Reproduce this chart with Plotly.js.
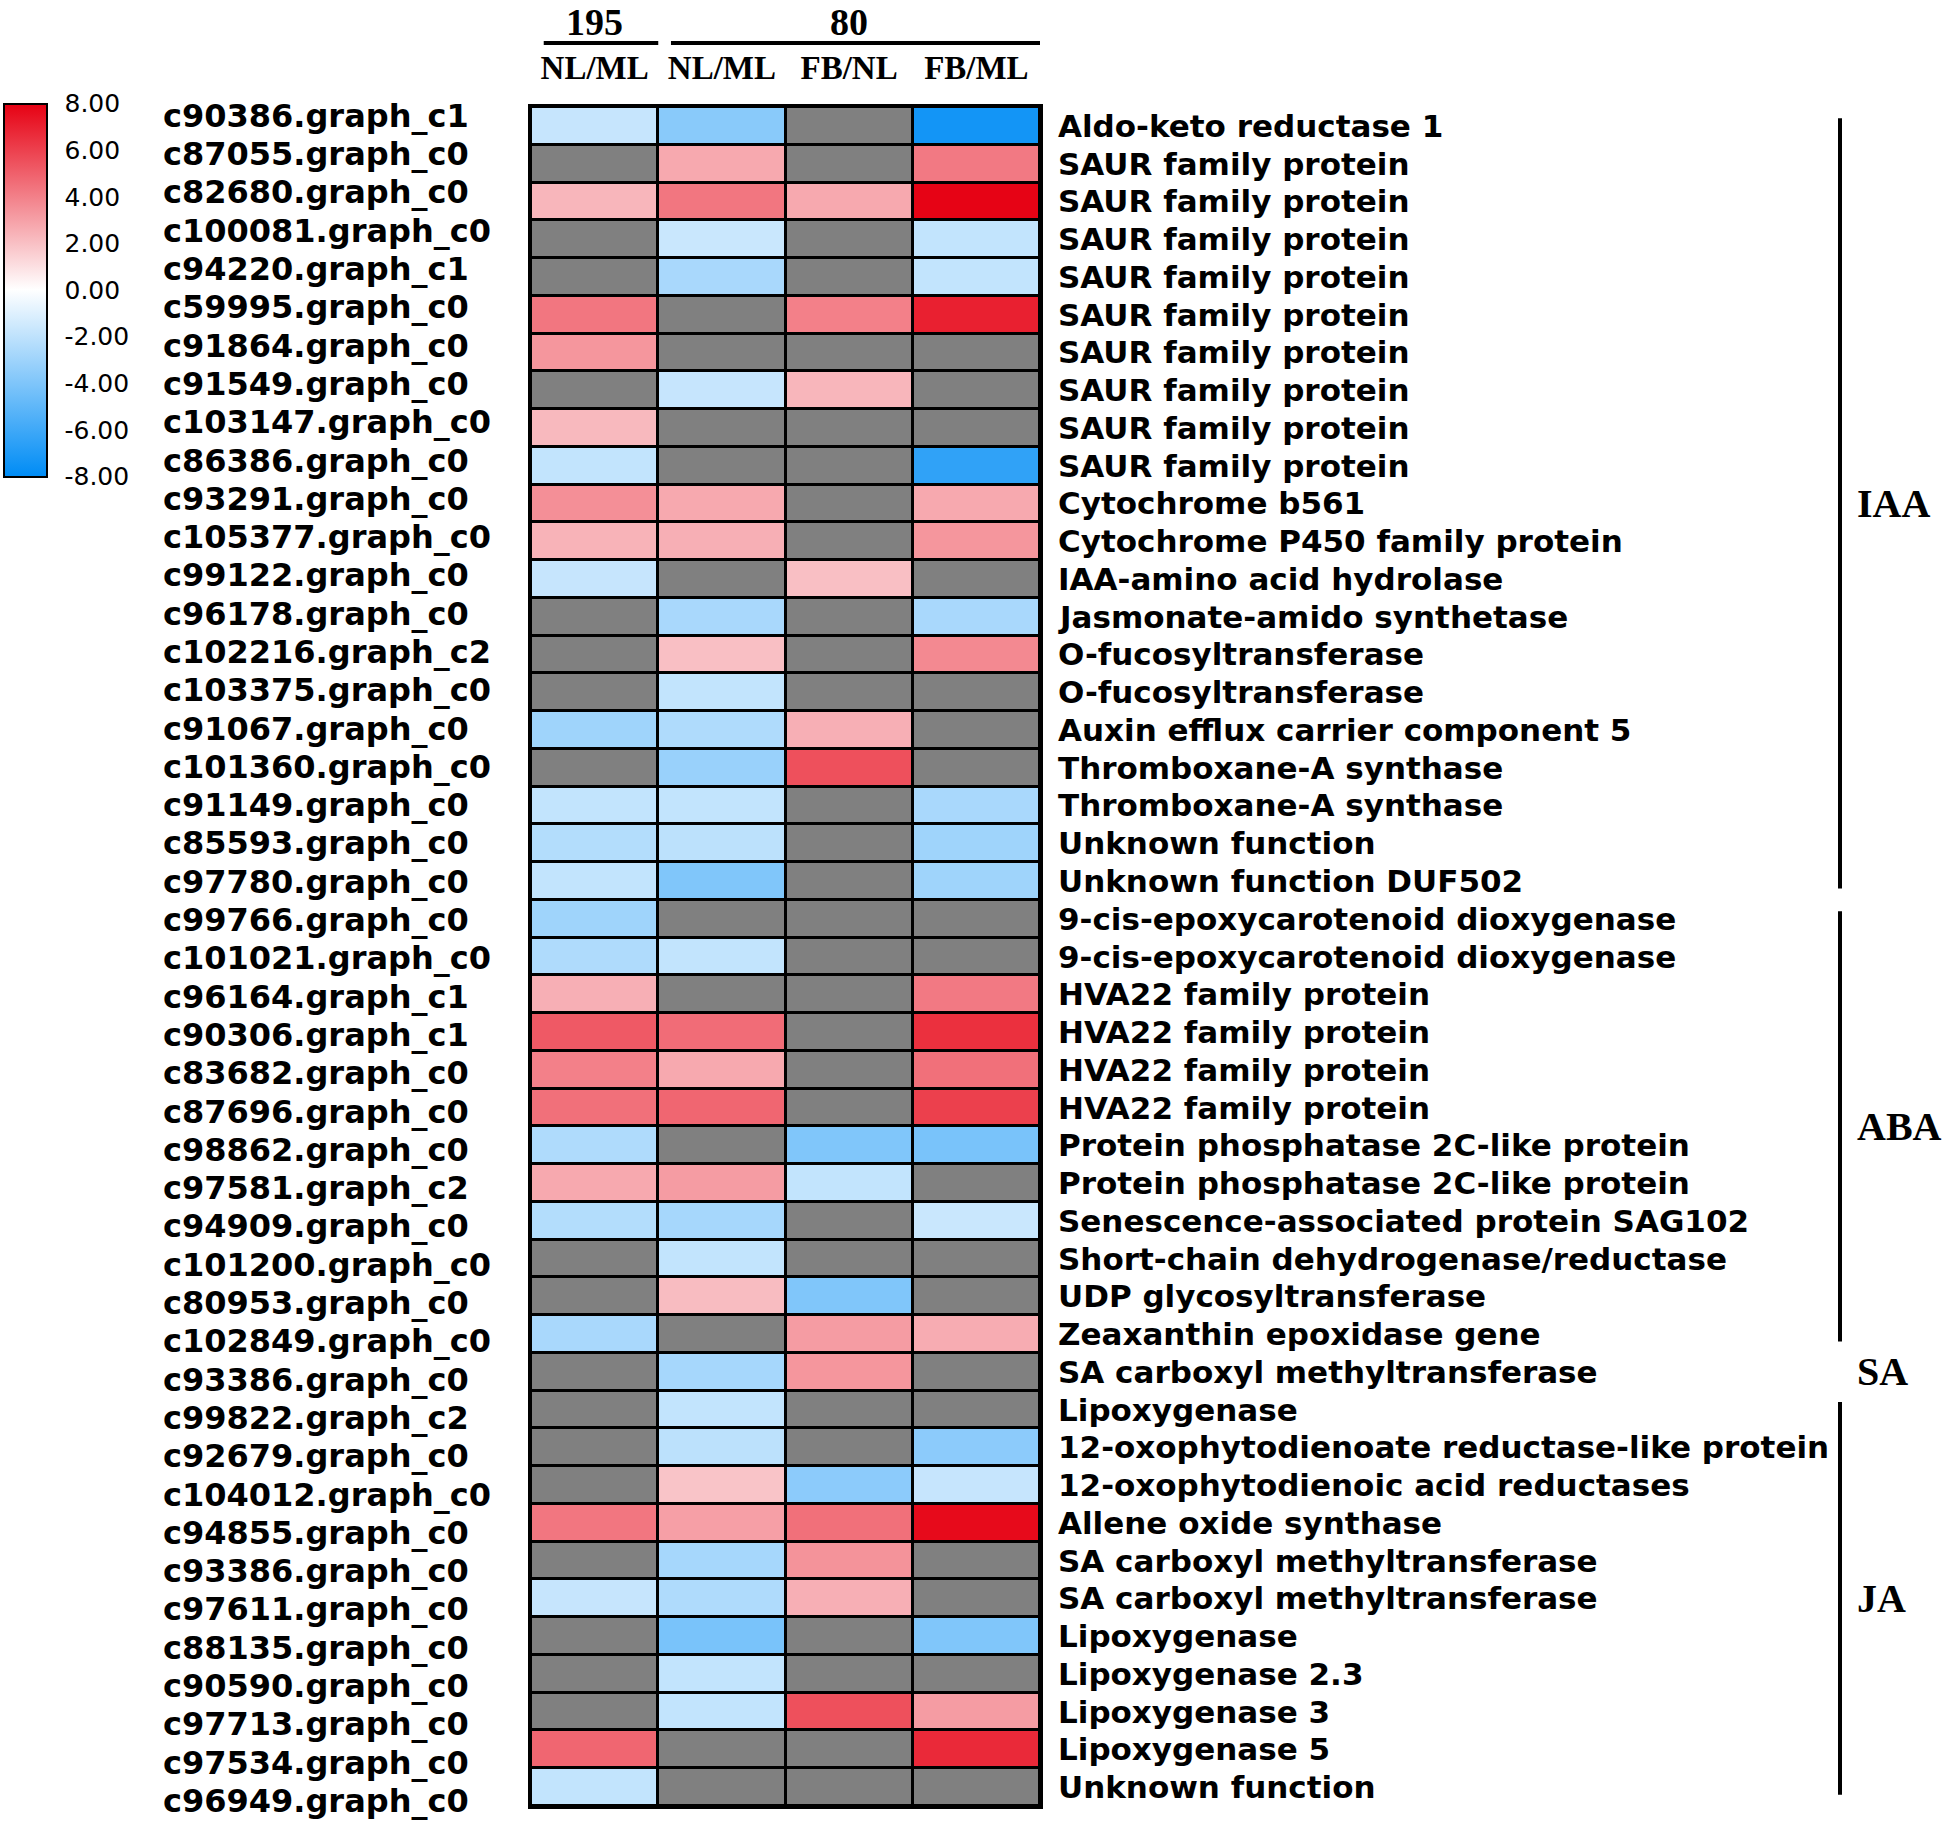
<!DOCTYPE html>
<html>
<head>
<meta charset="utf-8">
<script src="https://cdn.plot.ly/plotly-3.0.1.min.js"></script>
<style>
  body { margin: 0; background: #fff; }
  #plot { width: 1946px; height: 1827px; }
</style>
</head>
<body>
<div id="plot"></div>
<script>
// columns and their header groups
var colLabels = ["NL/ML", "NL/ML", "FB/NL", "FB/ML"];
var headGroups = ["195", "80"];
var headStart = [0, 1];
var headEnd = [0, 3];

// gene ids (left) and annotations (right)
var geneIds = [
  "c90386.graph_c1", "c87055.graph_c0", "c82680.graph_c0", "c100081.graph_c0",
  "c94220.graph_c1", "c59995.graph_c0", "c91864.graph_c0", "c91549.graph_c0",
  "c103147.graph_c0", "c86386.graph_c0", "c93291.graph_c0", "c105377.graph_c0",
  "c99122.graph_c0", "c96178.graph_c0", "c102216.graph_c2", "c103375.graph_c0",
  "c91067.graph_c0", "c101360.graph_c0", "c91149.graph_c0", "c85593.graph_c0",
  "c97780.graph_c0", "c99766.graph_c0", "c101021.graph_c0", "c96164.graph_c1",
  "c90306.graph_c1", "c83682.graph_c0", "c87696.graph_c0", "c98862.graph_c0",
  "c97581.graph_c2", "c94909.graph_c0", "c101200.graph_c0", "c80953.graph_c0",
  "c102849.graph_c0", "c93386.graph_c0", "c99822.graph_c2", "c92679.graph_c0",
  "c104012.graph_c0", "c94855.graph_c0", "c93386.graph_c0", "c97611.graph_c0",
  "c88135.graph_c0", "c90590.graph_c0", "c97713.graph_c0", "c97534.graph_c0",
  "c96949.graph_c0"
];
var geneNames = [
  "Aldo-keto reductase 1", "SAUR family protein", "SAUR family protein", "SAUR family protein",
  "SAUR family protein", "SAUR family protein", "SAUR family protein", "SAUR family protein",
  "SAUR family protein", "SAUR family protein", "Cytochrome b561", "Cytochrome P450 family protein",
  "IAA-amino acid hydrolase", "Jasmonate-amido synthetase", "O-fucosyltransferase", "O-fucosyltransferase",
  "Auxin efflux carrier component 5", "Thromboxane-A synthase", "Thromboxane-A synthase", "Unknown function",
  "Unknown function DUF502", "9-cis-epoxycarotenoid dioxygenase", "9-cis-epoxycarotenoid dioxygenase", "HVA22 family protein",
  "HVA22 family protein", "HVA22 family protein", "HVA22 family protein", "Protein phosphatase 2C-like protein",
  "Protein phosphatase 2C-like protein", "Senescence-associated protein SAG102", "Short-chain dehydrogenase/reductase", "UDP glycosyltransferase",
  "Zeaxanthin epoxidase gene", "SA carboxyl methyltransferase", "Lipoxygenase", "12-oxophytodienoate reductase-like protein",
  "12-oxophytodienoic acid reductases", "Allene oxide synthase", "SA carboxyl methyltransferase", "SA carboxyl methyltransferase",
  "Lipoxygenase", "Lipoxygenase 2.3", "Lipoxygenase 3", "Lipoxygenase 5",
  "Unknown function"
];

// hormone groups (row index ranges)
var groupNames = ["IAA", "ABA", "SA", "JA"];
var groupStart = [0, 21, 33, 34];
var groupEnd = [20, 32, 33, 44];

// log2 fold change per column, null = not detected (grey)
var col195NLML = [-1.8, null, 2.3, null, null, 4.3, 3.3, null, 2.2, -1.9,
  3.5, 2.4, -1.8, null, null, null, -3.0, null, -1.9, -2.4,
  -1.9, -3.0, -2.5, 2.5, 5.2, 4.0, 4.5, -2.5, 2.7, -2.4,
  null, null, -2.7, null, null, null, null, 4.3, null, -1.8,
  null, null, null, 4.8, -1.9];
var col80NLML = [-3.7, 2.7, 4.3, -1.7, -2.7, null, null, -1.8, null, null,
  2.7, 2.5, null, -2.7, 2.0, -1.9, -2.5, -3.2, -1.9, -2.1,
  -4.0, null, -1.9, null, 4.6, 2.7, 4.8, null, 3.1, -2.8,
  -1.9, 2.1, null, -2.8, -1.9, -2.1, 1.85, 3.0, -2.8, -2.5,
  -4.2, -1.9, -1.9, null, null];
var col80FBNL = [null, null, 2.7, null, null, 4.0, null, 2.3, null, null,
  null, null, 2.0, null, null, null, 2.5, 5.5, null, null,
  null, null, null, null, null, null, null, -4.0, -1.9, null,
  null, -4.0, 3.1, 3.3, null, null, -3.6, 4.5, 3.4, 2.5,
  null, null, 5.5, null, null];
var col80FBML = [-7.4, 4.2, 7.9, -1.9, -1.9, 7.0, null, null, null, -6.5,
  2.7, 3.3, null, -2.7, 3.7, null, null, null, -2.7, -3.0,
  -3.0, null, null, 4.2, 6.5, 4.5, 6.0, -4.2, null, -1.7,
  null, null, 2.6, null, null, -3.6, -1.8, 7.7, null, null,
  -4.0, null, 3.1, 6.7, null];

var cbTicks = [-8, -6, -4, -2, 0, 2, 4, 6, 8];

// build matrix rows x columns
var cols = [col195NLML, col80NLML, col80FBNL, col80FBML];
var z = geneIds.map(function(g, i) {
  return cols.map(function(c) { return c[i]; });
});
var zBase = z.map(function(r) { return r.map(function() { return 1; }); });
var xIdx = colLabels.map(function(c, j) { return j; });
var yIdx = geneIds.map(function(g, i) { return i; });

var W = 1946, H = 1827;
var boldSans = {family: "DejaVu Sans", size: 32, color: "#000", weight: "bold"};

// grey under-layer shows through where data is missing
var base = {
  type: "heatmap", x: xIdx, y: yIdx, z: zBase,
  colorscale: [[0, "#808080"], [1, "#808080"]],
  showscale: false, xgap: 3, ygap: 3, hoverinfo: "skip"
};
var heat = {
  type: "heatmap", x: xIdx, y: yIdx, z: z,
  zmin: -8, zmax: 8,
  colorscale: [[0, "#008CF5"], [0.5, "#FFFFFF"], [1, "#E60012"]],
  xgap: 3, ygap: 3,
  colorbar: {
    x: 4 / W, xanchor: "left", xpad: 0,
    y: 1 - 290 / H, yanchor: "middle", ypad: 0,
    len: 373, lenmode: "pixels",
    thickness: 43, thicknessmode: "pixels",
    outlinewidth: 2, outlinecolor: "#000",
    tickvals: cbTicks,
    ticktext: cbTicks.map(function(v) { return v.toFixed(2); }),
    ticks: "outside", ticklen: 12, tickcolor: "rgba(0,0,0,0)",
    tickfont: {family: "DejaVu Sans", size: 25, color: "#000"}
  }
};

var annotations = [];
var shapes = [];

// left ids, right names
geneIds.forEach(function(g, i) {
  annotations.push({
    text: g, xref: "paper", yref: "y", x: 161 / W, y: i,
    xanchor: "left", yanchor: "middle", showarrow: false,
    yshift: 10 - 0.54 * i, font: boldSans
  });
  annotations.push({
    text: geneNames[i], xref: "paper", yref: "y", x: 1056 / W, y: i,
    xanchor: "left", yanchor: "middle", showarrow: false,
    font: {family: "DejaVu Sans", size: 31, color: "#000", weight: "bold"}
  });
});

// column header groups
headGroups.forEach(function(h, k) {
  annotations.push({
    text: h, xref: "x", yref: "paper",
    x: (headStart[k] + headEnd[k]) / 2, y: 1,
    xanchor: "center", yanchor: "top", showarrow: false,
    borderpad: 0,
    font: {family: "Liberation Serif", size: 38, color: "#000", weight: "bold"}
  });
  shapes.push({
    type: "line", xref: "x", yref: "paper",
    x0: headStart[k] - 0.4, x1: headEnd[k] + 0.5,
    y0: 1 - 43 / H, y1: 1 - 43 / H,
    line: {color: "#000", width: 4}
  });
});

// hormone brackets
groupNames.forEach(function(g, k) {
  annotations.push({
    text: g, xref: "paper", yref: "y",
    x: 1855 / W, y: (groupStart[k] + groupEnd[k]) / 2,
    xanchor: "left", yanchor: "middle", showarrow: false,
    font: {family: "Liberation Serif", size: 40, color: "#000", weight: "bold"}
  });
  if (groupEnd[k] > groupStart[k]) {
    shapes.push({
      type: "line", xref: "paper", yref: "y",
      x0: 1840 / W, x1: 1840 / W,
      y0: groupStart[k] - 0.2, y1: groupEnd[k] + 0.2,
      line: {color: "#000", width: 4}
    });
  }
});

var layout = {
  width: W, height: H,
  margin: {l: 0, r: 0, t: 0, b: 0},
  paper_bgcolor: "#fff",
  plot_bgcolor: "#000",
  showlegend: false,
  xaxis: {
    domain: [531 / W, 1040 / W],
    range: [-0.5, 3.5], side: "top",
    tickvals: xIdx, ticktext: colLabels,
    ticks: "outside", ticklen: 12, tickcolor: "rgba(0,0,0,0)",
    tickfont: {family: "Liberation Serif", size: 33, color: "#000", weight: "bold"},
    showgrid: false, zeroline: false,
    showline: true, mirror: true, linecolor: "#000", linewidth: 3
  },
  yaxis: {
    domain: [1 - 1806 / H, 1 - 107 / H],
    range: [44.5, -0.5],
    ticks: "", showticklabels: false, showgrid: false, zeroline: false,
    showline: true, mirror: true, linecolor: "#000", linewidth: 3
  },
  annotations: annotations,
  shapes: shapes
};

Plotly.newPlot("plot", [base, heat], layout, {staticPlot: true});
</script>
</body>
</html>
